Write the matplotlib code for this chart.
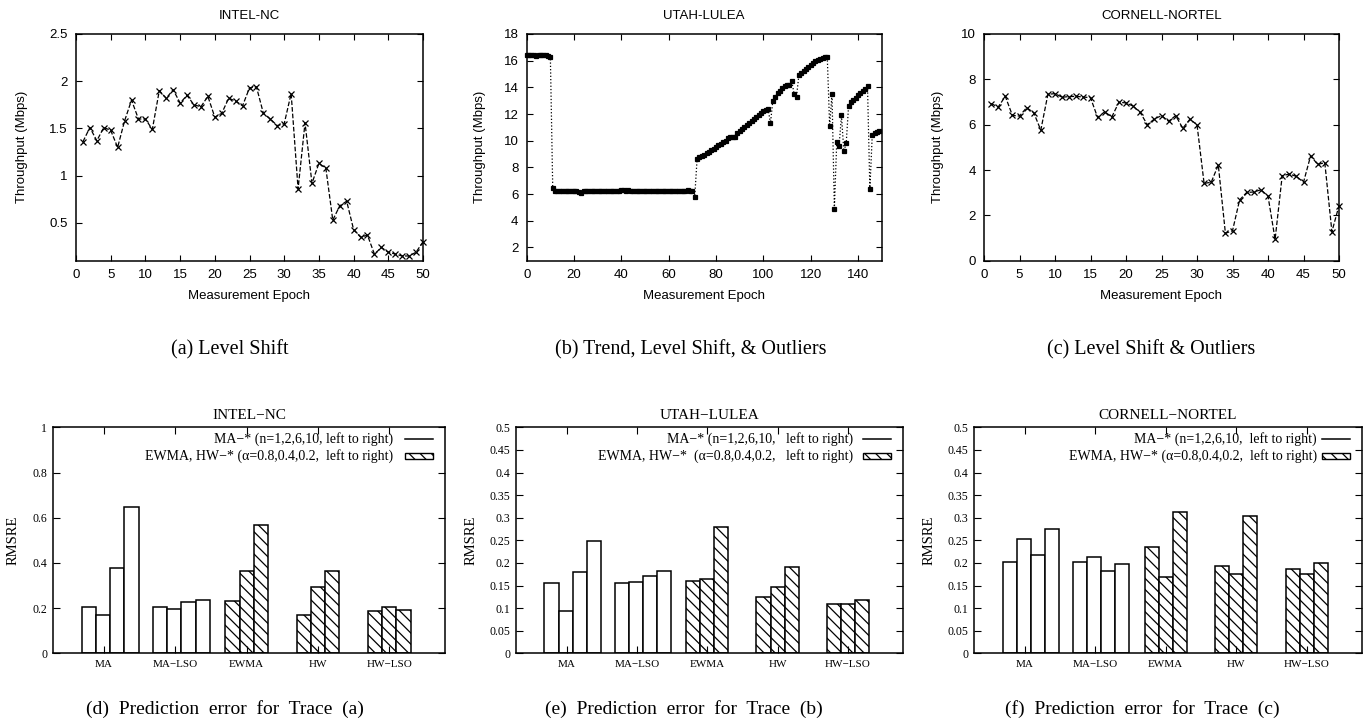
import numpy as np
import matplotlib
matplotlib.use('Agg')
import matplotlib.pyplot as plt
from matplotlib.patches import Rectangle
from matplotlib.lines import Line2D
from matplotlib.ticker import FormatStrFormatter

plt.rcParams['xtick.direction'] = 'in'
plt.rcParams['ytick.direction'] = 'in'
plt.rcParams['xtick.top'] = True
plt.rcParams['ytick.right'] = True
plt.rcParams['hatch.linewidth'] = 0.9

SANS = 'Liberation Sans'
SERIF = 'Liberation Serif'

# ---- throughput traces (Mbps) ----
intel_tput = [1.36, 1.51, 1.37, 1.51, 1.48, 1.30, 1.58, 1.80, 1.60, 1.60,
              1.49, 1.90, 1.82, 1.91, 1.77, 1.85, 1.75, 1.73, 1.84, 1.62,
              1.66, 1.82, 1.79, 1.74, 1.93, 1.94, 1.66, 1.60, 1.53, 1.55,
              1.87, 0.86, 1.56, 0.92, 1.13, 1.08, 0.53, 0.68, 0.73, 0.43,
              0.35, 0.37, 0.17, 0.24, 0.19, 0.17, 0.15, 0.15, 0.19, 0.30]

utah_tput = [16.4, 16.4, 16.4, 16.4, 16.35, 16.4, 16.4, 16.4, 16.4, 16.35, 16.3,
             6.45,
             6.25, 6.2, 6.25, 6.2, 6.25, 6.25, 6.2, 6.25, 6.2, 6.2,
             6.15, 6.1, 6.2, 6.25, 6.2, 6.25, 6.25, 6.2, 6.25, 6.2,
             6.25, 6.2, 6.2, 6.25, 6.2, 6.25, 6.2, 6.25, 6.3, 6.3,
             6.25, 6.3, 6.25, 6.25, 6.2, 6.25, 6.25, 6.2, 6.25, 6.2,
             6.25, 6.2, 6.25, 6.2, 6.2, 6.25, 6.2, 6.2, 6.25, 6.2,
             6.25, 6.25, 6.2, 6.25, 6.2, 6.25, 6.3, 6.25, 6.2,
             5.8,
             8.65, 8.75, 8.85, 8.95, 9.05, 9.15, 9.3, 9.4, 9.55, 9.65,
             9.75, 9.9, 10.0, 10.2, 10.25, 10.3, 10.25, 10.6, 10.75, 10.85,
             11.0, 11.15, 11.3, 11.45, 11.6, 11.75, 11.9, 12.05, 12.2, 12.3, 12.4,
             11.3,
             13.0, 13.3, 13.55, 13.75, 13.95, 14.1, 14.15, 14.15, 14.45,
             13.5, 13.3,
             14.9, 15.1, 15.25, 15.4, 15.5, 15.65, 15.8, 15.95, 16.05, 16.15,
             16.2, 16.3, 16.3,
             11.1, 13.5, 4.9, 9.9, 9.6, 11.9, 9.2, 9.8,
             12.6, 12.9, 13.05, 13.2, 13.4, 13.55, 13.7, 13.9, 14.1,
             6.35,
             10.4, 10.6, 10.65, 10.7]

cornell_tput = [6.93, 6.78, 7.25, 6.41, 6.38, 6.75, 6.53, 5.76, 7.34, 7.37,
                7.21, 7.24, 7.25, 7.22, 7.19, 6.32, 6.57, 6.34, 6.99, 6.96,
                6.82, 6.54, 6.00, 6.25, 6.40, 6.15, 6.40, 5.84, 6.24, 6.00,
                3.41, 3.46, 4.22, 1.21, 1.32, 2.68, 3.01, 3.03, 3.13, 2.85,
                0.94, 3.75, 3.82, 3.72, 3.46, 4.62, 4.25, 4.32, 1.28, 2.43]

# ---- prediction error (RMSRE) per predictor group ----
groups = ['MA', 'MA\u2212LSO', 'EWMA', 'HW', 'HW\u2212LSO']
intel_err = [[0.206, 0.171, 0.376, 0.649],
             [0.206, 0.195, 0.229, 0.235],
             [0.233, 0.363, 0.569],
             [0.171, 0.295, 0.366],
             [0.189, 0.206, 0.190]]
utah_err = [[0.156, 0.093, 0.180, 0.248],
            [0.156, 0.158, 0.170, 0.182],
            [0.159, 0.165, 0.280],
            [0.124, 0.146, 0.190],
            [0.110, 0.108, 0.117]]
cornell_err = [[0.202, 0.252, 0.218, 0.274],
               [0.202, 0.212, 0.183, 0.197],
               [0.235, 0.168, 0.3125],
               [0.193, 0.176, 0.303],
               [0.187, 0.176, 0.200]]

W, H = 1369, 722
fig = plt.figure(figsize=(W / 100, H / 100), dpi=100)


def rect(l, r, t, b):
    return [l / W, 1 - b / H, (r - l) / W, (b - t) / H]


def trace_plot(box, x, y, title, ls, marker, ms, xlim, xticks, ylim, yticks, ylab_x):
    ax = fig.add_axes(rect(*box))
    ax.plot(x, y, color='black', ls=ls, lw=0.9, marker=marker, ms=ms, mew=0.9,
            clip_on=False, zorder=3)
    ax.set_xlim(*xlim)
    ax.set_ylim(*ylim)
    ax.set_xticks(xticks)
    ax.set_yticks(yticks)
    ax.yaxis.set_major_formatter(FormatStrFormatter('%g'))
    ax.tick_params(length=4, width=0.8, pad=6, labelsize=9.5)
    for lab in ax.get_xticklabels() + ax.get_yticklabels():
        lab.set_family(SANS)
    for s in ax.spines.values():
        s.set_linewidth(1.1)
    ax.set_title(title, family=SANS, fontsize=9.5, pad=11)
    ax.set_xlabel('Measurement Epoch', family=SANS, fontsize=9.5)
    ax.set_ylabel('Throughput (Mbps)', family=SANS, fontsize=9.5)
    ax.xaxis.set_label_coords(0.5, -0.155)
    ax.xaxis.label.set_va('center')
    ax.yaxis.set_label_coords(ylab_x, 0.5)
    ax.yaxis.label.set_va('center')
    return ax


top_box = (34, 260.7)
trace_plot((76, 423) + top_box, np.arange(1, 51), intel_tput, 'INTEL-NC', '--', 'x', 4,
           (0, 50), range(0, 51, 5), (0.1, 2.5), [0.5, 1, 1.5, 2, 2.5], -0.157)
trace_plot((526.7, 881.7) + top_box, np.arange(0, 150), utah_tput, 'UTAH-LULEA', ':', 's', 2.6,
           (0, 150), range(0, 141, 20), (1, 18), range(2, 19, 2), -0.131)
trace_plot((984, 1339) + top_box, np.arange(1, 51), cornell_tput, 'CORNELL-NORTEL', '--', 'x', 4,
           (0, 50), range(0, 51, 5), (0, 10), range(0, 11, 2), -0.129)

legend_text = {
    'd': ('MA\u2212* (n=1,2,6,10, left to right)',
          'EWMA, HW\u2212* (\u03b1=0.8,0.4,0.2,  left to right)'),
    'e': ('MA\u2212* (n=1,2,6,10,   left to right)',
          'EWMA, HW\u2212*  (\u03b1=0.8,0.4,0.2,   left to right)'),
    'f': ('MA\u2212* (n=1,2,6,10,  left to right)',
          'EWMA, HW\u2212* (\u03b1=0.8,0.4,0.2,  left to right)'),
}


def error_plot(box, err, title, ymax, ystep, ylab_x, key, txt_x):
    ax = fig.add_axes(rect(*box))
    bw = 0.2
    hatch = '\\\\\\'
    for g, vals in enumerate(err):
        n = len(vals)
        shift = 0.085 if n == 4 else 0.0
        for i, v in enumerate(vals):
            xpos = g + (i - (n - 1) / 2) * bw + shift
            ax.bar(xpos, v, width=bw, facecolor='white', edgecolor='black',
                   lw=1.1, hatch=hatch if n == 3 else None)
    ax.set_xlim(-0.72, 4.78)
    ax.set_ylim(0, ymax)
    ax.set_xticks(range(len(groups)))
    ax.set_xticklabels(groups, family=SERIF, fontsize=8)
    ax.set_yticks(np.arange(0, ymax + 1e-9, ystep))
    ax.yaxis.set_major_formatter(FormatStrFormatter('%g'))
    for lab in ax.get_yticklabels():
        lab.set_family(SERIF)
        lab.set_fontsize(8.5)
    ax.tick_params(axis='x', length=5, width=0.8, pad=5)
    ax.tick_params(axis='y', length=5, width=0.8, pad=4)
    for s in ax.spines.values():
        s.set_linewidth(1.1)
    ax.set_title(title, family=SERIF, fontsize=11, pad=6)
    ax.set_ylabel('RMSRE', family=SERIF, fontsize=10.5)
    ax.yaxis.set_label_coords(ylab_x, 0.5)
    ax.yaxis.label.set_va('center')
    # hand-made key, text right-aligned with sample on the right
    t1, t2 = legend_text[key]
    ax.text(txt_x, 0.948, t1, transform=ax.transAxes, ha='right', va='center',
            family=SERIF, fontsize=10)
    ax.text(txt_x, 0.873, t2, transform=ax.transAxes, ha='right', va='center',
            family=SERIF, fontsize=10)
    ax.add_line(Line2D([0.897, 0.969], [0.948, 0.948], transform=ax.transAxes,
                       color='black', lw=1.1))
    ax.add_patch(Rectangle((0.897, 0.86), 0.072, 0.027, transform=ax.transAxes,
                           facecolor='white', edgecolor='black', lw=1.0, hatch=hatch))
    return ax


bot_box = (427.3, 653.3)
error_plot((52.7, 445) + bot_box, intel_err, 'INTEL\u2212NC', 1.0, 0.2, -0.100, 'd', 0.867)
error_plot((516, 902.7) + bot_box, utah_err, 'UTAH\u2212LULEA', 0.5, 0.05, -0.115, 'e', 0.871)
error_plot((974, 1361.7) + bot_box, cornell_err, 'CORNELL\u2212NORTEL', 0.5, 0.05, -0.116, 'f', 0.885)

captions_top = ['(a) Level Shift', '(b) Trend, Level Shift, & Outliers', '(c) Level Shift & Outliers']
captions_bot = ['(d)  Prediction  error  for  Trace  (a)',
                '(e)  Prediction  error  for  Trace  (b)',
                '(f)  Prediction  error  for  Trace  (c)']
for cx, txt in zip([230, 691, 1151], captions_top):
    fig.text(cx / W, 1 - 350 / H, txt, ha='center', va='center', family=SERIF, fontsize=14.5)
for cx, txt in zip([225, 684, 1142], captions_bot):
    fig.text(cx / W, 1 - 709 / H, txt, ha='center', va='center', family=SERIF, fontsize=14)

fig.savefig('out.png', dpi=100, facecolor='white')
